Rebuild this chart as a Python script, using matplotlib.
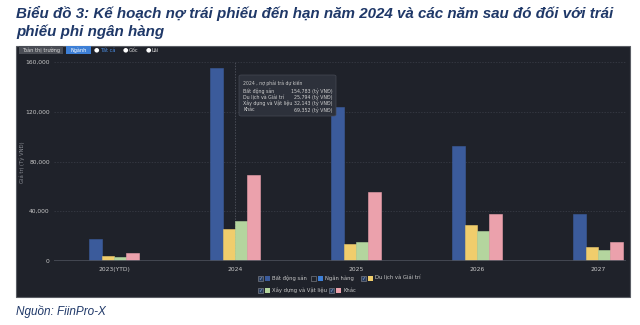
import matplotlib
matplotlib.use("Agg")
import matplotlib.pyplot as plt
from matplotlib.patches import Rectangle, FancyBboxPatch
import numpy as np

# Data (tỷ VNĐ)
categories = ["2023(YTD)", "2024", "2025", "2026", "2027"]
bat_dong_san = [17700, 154783, 123800, 92700, 37500]
du_lich = [4000, 25794, 13700, 29200, 11000]
xay_dung = [3000, 32143, 15300, 24100, 8600]
khac = [6400, 69352, 55500, 37500, 15000]

series_names = ["Bất động sản", "Du lịch và Giải trí", "Xây dựng và Vật liệu", "Khác"]
series_values = [bat_dong_san, du_lich, xay_dung, khac]
colors = ["#3b5b9b", "#f0cd6c", "#b4d59e", "#eba1ac"]

W, H = 640, 325
fig = plt.figure(figsize=(6.4, 3.25), dpi=100)
fig.patch.set_facecolor("white")

def fx(px):
    return px / W

def fy(py):
    return 1 - py / H

navy = "#1f3868"
fig.text(fx(16), fy(13), "Biểu đồ 3: Kế hoạch nợ trái phiếu đến hạn năm 2024 và các năm sau đó đối với trái",
         fontsize=10.9, fontweight="bold", fontstyle="italic", color=navy, va="center",
         family="Liberation Sans")
fig.text(fx(16), fy(32), "phiếu phi ngân hàng",
         fontsize=10.9, fontweight="bold", fontstyle="italic", color=navy, va="center",
         family="Liberation Sans")
fig.text(fx(16), fy(311), "Nguồn: FiinPro-X", fontsize=8.5, fontstyle="italic",
         color=navy, va="center", family="Liberation Sans")

# dark panel
panel_bg = "#1f222a"
fig.patches.append(Rectangle((fx(16), fy(297)), fx(614), (297 - 46) / H,
                             transform=fig.transFigure, facecolor=panel_bg,
                             edgecolor="#5a5d64", linewidth=0.8, zorder=0))

# toolbar
fig.patches.append(Rectangle((fx(19), fy(54)), fx(44), 8 / H, transform=fig.transFigure,
                             facecolor="#4a4d55", edgecolor="none", zorder=1))
fig.text(fx(41), fy(50), "Toàn thị trường", fontsize=3.6, color="#d8d8d8",
         ha="center", va="center")
fig.patches.append(Rectangle((fx(66), fy(54)), fx(25), 8 / H, transform=fig.transFigure,
                             facecolor="#3d7fd6", edgecolor="none", zorder=1))
fig.text(fx(78.5), fy(50), "Ngành", fontsize=3.6, color="white", ha="center", va="center")
for px, lab, col in [(96, "Tất cả", "#4a8be0"), (125, "Gốc", "#d8d8d8"), (148, "Lãi", "#d8d8d8")]:
    fig.text(fx(px), fy(50), "●", fontsize=4.5, color="white", ha="center", va="center")
    fig.text(fx(px + 4), fy(50), lab, fontsize=3.6, color=col, ha="left", va="center")

# main axes
ax_left, ax_right, ax_top, ax_bot = 54, 626, 62, 261
ax = fig.add_axes([fx(ax_left), fy(ax_bot), (ax_right - ax_left) / W, (ax_bot - ax_top) / H])
ax.set_facecolor("none")
ax.set_zorder(2)

x = np.arange(len(categories))
width = 0.102
n = len(series_values)
for i, (name, vals, c) in enumerate(zip(series_names, series_values, colors)):
    offs = (i - (n - 1) / 2) * width
    ax.bar(x + offs, vals, width, color=c, edgecolor=c, linewidth=0.4, zorder=3, label=name)

x0_px, step_px = 114, 121
ax.set_xlim((ax_left - x0_px) / step_px, (ax_right - x0_px) / step_px)
ax.set_ylim(0, 160000)
yt = [0, 40000, 80000, 120000, 160000]
ax.set_yticks(yt)
ax.set_yticklabels([f"{v:,}" for v in yt])
ax.set_xticks(x)
ax.set_xticklabels(categories)
ax.tick_params(axis="both", length=0, labelsize=4.3, colors="#c8c8c8")
ax.tick_params(axis="x", pad=4)
ax.tick_params(axis="y", pad=3)
ax.grid(axis="y", color="#3c404a", linestyle=(0, (2, 2)), linewidth=0.5, zorder=0)
for s in ax.spines.values():
    s.set_visible(False)
ax.axhline(0, color="#4a4e58", linewidth=1.2, zorder=4)
ax.axvline(1, ymin=0, ymax=1, color="#5a5e68", linestyle=(0, (2, 2)), linewidth=0.5, zorder=2)
fig.text(fx(22), fy(162), "Giá trị (Tỷ VNĐ)", fontsize=3.8, color="#8a8d94",
         rotation=90, ha="center", va="center", zorder=6)

# tooltip
fig.patches.append(FancyBboxPatch((fx(239), fy(116)), fx(97), 41 / H,
                                  boxstyle="round,pad=0,rounding_size=0.004",
                                  transform=fig.transFigure, facecolor="#2d313b",
                                  edgecolor="#454954", linewidth=0.5, zorder=5))
fig.text(fx(243), fy(83), "2024 , nợ phải trả dự kiến", fontsize=3.3, color="#c8c8c8",
         va="center", zorder=6)
for k, (name, vals) in enumerate(zip(series_names, series_values)):
    yy = fy(91 + k * 6.3)
    fig.text(fx(243), yy, name, fontsize=3.4, color="#d0d0d0", va="center", zorder=6)
    fig.text(fx(333), yy, f"{vals[1]:,} (tỷ VNĐ)", fontsize=3.4, color="#d0d0d0",
             va="center", ha="right", zorder=6)

# legend
legend_items = [
    (258, 278, "Bất động sản", "#3b5b9b", True),
    (311, 278, "Ngân hàng", "#3d7fd6", False),
    (361, 278, "Du lịch và Giải trí", "#f0cd6c", True),
    (258, 290, "Xây dựng và Vật liệu", "#b4d59e", True),
    (329, 290, "Khác", "#eba1ac", True),
]
for px, py, lab, c, checked in legend_items:
    box_face = "#2b3d5c" if checked else panel_bg
    fig.patches.append(Rectangle((fx(px), fy(py + 2.5)), 5 / W, 5 / H, transform=fig.transFigure,
                                 facecolor=box_face, edgecolor="#8a8d94", linewidth=0.4, zorder=5))
    if checked:
        fig.text(fx(px + 2.5), fy(py), "✓", fontsize=3.5, color="#9ec0f0",
                 ha="center", va="center", zorder=6)
    fig.patches.append(Rectangle((fx(px + 7), fy(py + 2.5)), 5 / W, 5 / H, transform=fig.transFigure,
                                 facecolor=c, edgecolor="none", zorder=5))
    fig.text(fx(px + 14), fy(py), lab, fontsize=3.8, color="#c8c8c8", va="center", zorder=6)

fig.savefig("out.png", dpi=100, facecolor="white")
